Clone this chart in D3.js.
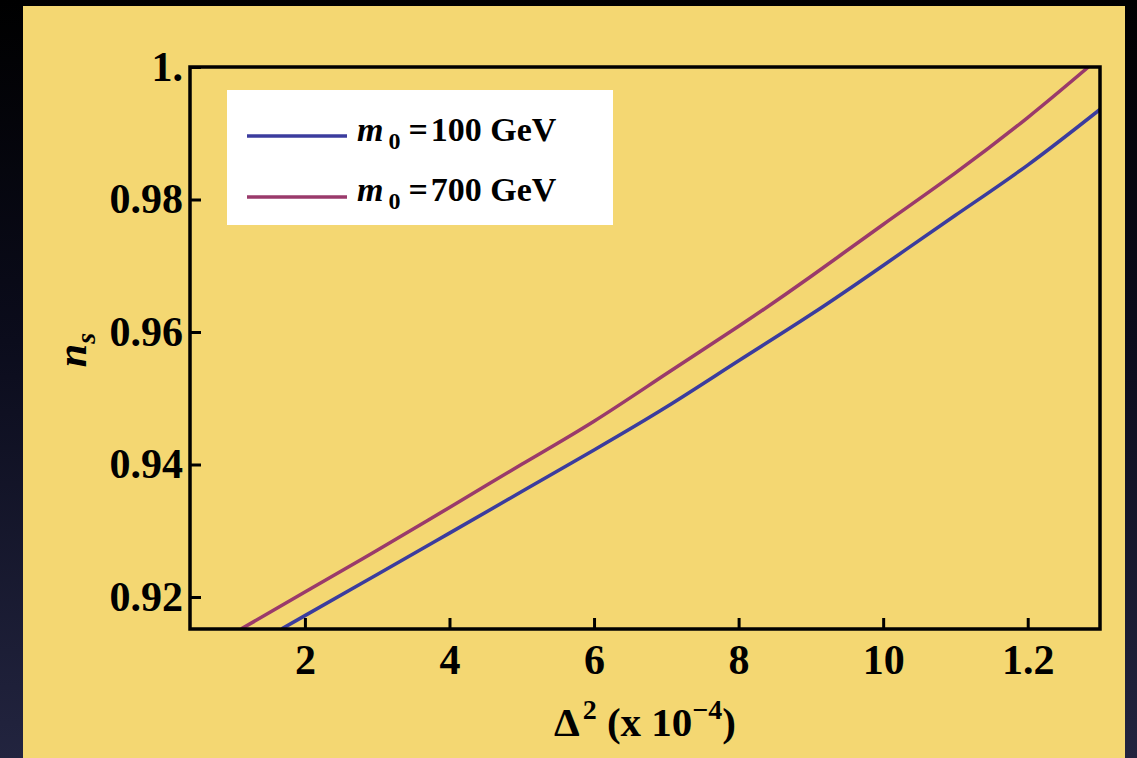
<!DOCTYPE html>
<html>
<head>
<meta charset="utf-8">
<script src="https://cdn.jsdelivr.net/npm/d3@7"></script>
<style>
  html, body { margin: 0; padding: 0; background: #000; }
  svg { display: block; }
</style>
</head>
<body>
<svg id="chart" width="1137" height="758"></svg>
<script>
// ---- data ----
const xValues100 = [1.68, 2, 3, 4, 5, 6, 7, 8, 9, 10, 11, 12, 13];
const nsValues100 = [0.91519, 0.91719, 0.92339, 0.92964, 0.93591, 0.94219, 0.94867, 0.95565, 0.96263, 0.97004, 0.97762, 0.98520, 0.99360];
const xValues700 = [1.12, 2, 3, 4, 5, 6, 7, 8, 9, 10, 11, 12, 12.84];
const nsValues700 = [0.91519, 0.92074, 0.92707, 0.93352, 0.94003, 0.94653, 0.95369, 0.96086, 0.96838, 0.97623, 0.98401, 0.99237, 1.0];
const seriesNames = ["100", "700"];
const xTicks = [2, 4, 6, 8, 10, 12];
const xTickLabels = ["2", "4", "6", "8", "10", "1.2"];
const yTicks = [0.92, 0.94, 0.96, 0.98, 1.0];
const yTickLabels = ["0.92", "0.94", "0.96", "0.98", "1."];
const xDomain = [0.41, 13.0];
const yDomain = [0.91517, 1.0];

const colors = {"100": "#3b3c9e", "700": "#9a3a6b"};
const FONT = "'Liberation Serif', 'Times New Roman', serif";

const svg = d3.select("#chart");
const W = 1137, H = 758;

// background gradient
const defs = svg.append("defs");
const bg = defs.append("linearGradient").attr("id", "bg").attr("x1", 0).attr("y1", 0).attr("x2", 0).attr("y2", 1);
bg.append("stop").attr("offset", "0%").attr("stop-color", "#000000");
bg.append("stop").attr("offset", "45%").attr("stop-color", "#0b0c1c");
bg.append("stop").attr("offset", "100%").attr("stop-color", "#22243f");
svg.append("rect").attr("width", W).attr("height", H).attr("fill", "url(#bg)");

// yellow panel
svg.append("rect").attr("x", 23).attr("y", 6).attr("width", 1102).attr("height", H - 6).attr("fill", "#f4d772");

const plot = {left: 190, top: 67, right: 1100, bottom: 629};
const x = d3.scaleLinear().domain(xDomain).range([plot.left, plot.right]);
const y = d3.scaleLinear().domain(yDomain).range([plot.bottom, plot.top]);

defs.append("clipPath").attr("id", "clip").append("rect")
  .attr("x", plot.left).attr("y", plot.top)
  .attr("width", plot.right - plot.left).attr("height", plot.bottom - plot.top);

// curves
const line = d3.line().x(d => x(d[0])).y(d => y(d[1])).curve(d3.curveNatural);
const data = {
  "100": xValues100.map((v, i) => [v, nsValues100[i]]),
  "700": xValues700.map((v, i) => [v, nsValues700[i]])
};
const g = svg.append("g").attr("clip-path", "url(#clip)");
seriesNames.forEach(k => {
  g.append("path").datum(data[k]).attr("d", line)
    .attr("fill", "none").attr("stroke", colors[k]).attr("stroke-width", 3.5);
});

// axes
const xAxis = d3.axisBottom(x).tickValues(xTicks)
  .tickFormat((d, i) => xTickLabels[i]).tickSizeInner(-11).tickSizeOuter(0).tickPadding(15);
const gx = svg.append("g").attr("transform", `translate(0,${plot.bottom})`).call(xAxis);
const yAxis = d3.axisLeft(y).tickValues(yTicks)
  .tickFormat((d, i) => yTickLabels[i]).tickSizeInner(-11).tickSizeOuter(0).tickPadding(7);
const gy = svg.append("g").attr("transform", `translate(${plot.left},0)`).call(yAxis);
[gx, gy].forEach(a => {
  a.select(".domain").remove();
  a.selectAll(".tick line").attr("stroke", "#000").attr("stroke-width", 3);
  a.selectAll(".tick text").attr("fill", "#000")
    .style("font-family", FONT).style("font-weight", "bold").style("font-size", "42px");
});

// frame
svg.append("rect").attr("x", plot.left).attr("y", plot.top)
  .attr("width", plot.right - plot.left).attr("height", plot.bottom - plot.top)
  .attr("fill", "none").attr("stroke", "#000").attr("stroke-width", 3.5);

// legend
const lg = svg.append("g");
lg.append("rect").attr("x", 227).attr("y", 90).attr("width", 386).attr("height", 135).attr("fill", "#ffffff");
const legRows = [{k: "100", ly: 136, ty: 141}, {k: "700", ly: 197, ty: 201}];
legRows.forEach(r => {
  lg.append("line").attr("x1", 247).attr("x2", 347).attr("y1", r.ly).attr("y2", r.ly)
    .attr("stroke", colors[r.k]).attr("stroke-width", 3.5);
  const t = lg.append("text").attr("x", 357).attr("y", r.ty)
    .style("font-family", FONT).style("font-weight", "bold").style("font-size", "34px").attr("fill", "#000");
  t.append("tspan").style("font-style", "italic").text("m");
  t.append("tspan").attr("dx", 5).attr("dy", 8).style("font-size", "24px").text("0");
  t.append("tspan").attr("dx", 8).attr("dy", -8).text("=");
  t.append("tspan").attr("dx", 3).text(r.k + " GeV");
});

// x axis title
const xt = svg.append("text").attr("x", 645).attr("y", 736).attr("text-anchor", "middle")
  .style("font-family", FONT).style("font-weight", "bold").style("font-size", "41px").attr("fill", "#000");
xt.append("tspan").text("\u0394");
xt.append("tspan").attr("dx", 3).attr("dy", -17).style("font-size", "28px").text("2");
xt.append("tspan").attr("dy", 17).text(" (x 10");
xt.append("tspan").attr("dy", -17).style("font-size", "28px").text("\u22124");
xt.append("tspan").attr("dy", 17).text(")");

// y axis title
const yt = svg.append("text").attr("transform", "translate(86,350) rotate(-90)").attr("text-anchor", "middle")
  .style("font-family", FONT).style("font-weight", "bold").style("font-size", "42px").attr("fill", "#000");
yt.append("tspan").style("font-style", "italic").text("n");
yt.append("tspan").attr("dy", 9).style("font-style", "italic").style("font-size", "28px").text("s");
</script>
</body>
</html>
